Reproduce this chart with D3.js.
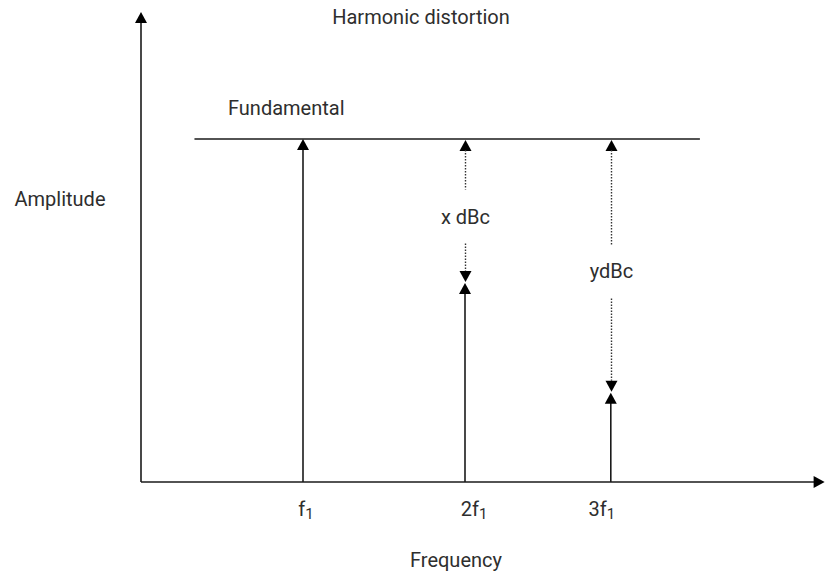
<!DOCTYPE html>
<html>
<head>
<meta charset="utf-8">
<script src="https://cdn.jsdelivr.net/npm/d3@7"></script>
<style>
  html, body { margin: 0; padding: 0; background: #fff; }
  svg text { font-family: "Roboto", "Liberation Sans", sans-serif; fill: #2e2e2e; }
</style>
</head>
<body>
<svg id="chart" width="830" height="573"></svg>
<script>
// ---- data ----
const harmonics = ["f1", "2f1", "3f1"];
const tickBase = ["f", "2f", "3f"];
const harmonicPosition = [1, 2, 2.9];      // schematic frequency position
const amplitude = [1.0, 0.58, 0.26];         // relative amplitude
const levelLabels = [null, "x dBc", "ydBc"];
const title = "Harmonic distortion";
const xTitle = "Frequency";
const yTitle = "Amplitude";
const fundamentalLabel = "Fundamental";
const fundamentalSpan = [0.33, 3.45];
const xMax = 4.22, yMax = 1.37;

// ---- layout ----
const svg = d3.select("#chart");
const origin = { x: 141, y: 482 };
const x = d3.scaleLinear().domain([0, 1]).range([origin.x, 303]);
const y = d3.scaleLinear().domain([0, 1]).range([origin.y, 139]);
const ink = "#1a1a1a";
const AH = 11, AW = 6;   // arrow height, half width
const FS = 20;

function triUp(cx, tipY) {
  return `M${cx},${tipY}L${cx - AW},${tipY + AH}L${cx + AW},${tipY + AH}Z`;
}
function triDown(cx, tipY) {
  return `M${cx},${tipY}L${cx - AW},${tipY - AH}L${cx + AW},${tipY - AH}Z`;
}
function triRight(tipX, cy) {
  return `M${tipX},${cy}L${tipX - AH},${cy - AW}L${tipX - AH},${cy + AW}Z`;
}

// axes
svg.append("line").attr("x1", x(0)).attr("x2", x(xMax) - 4)
  .attr("y1", y(0)).attr("y2", y(0)).attr("stroke", ink).attr("stroke-width", 1.6);
svg.append("path").attr("d", triRight(x(xMax), y(0))).attr("fill", "#000");
svg.append("line").attr("x1", x(0)).attr("x2", x(0))
  .attr("y1", y(0)).attr("y2", y(yMax) + 4).attr("stroke", ink).attr("stroke-width", 1.6);
svg.append("path").attr("d", triUp(x(0), y(yMax))).attr("fill", "#000");

// fundamental reference line
svg.append("line").attr("x1", x(fundamentalSpan[0])).attr("x2", x(fundamentalSpan[1]))
  .attr("y1", y(amplitude[0])).attr("y2", y(amplitude[0]))
  .attr("stroke", ink).attr("stroke-width", 1.6);

const data = harmonics.map((h, i) => ({
  h, base: tickBase[i], pos: harmonicPosition[i], amp: amplitude[i], label: levelLabels[i]
}));

// harmonic lines + arrowheads
const g = svg.selectAll("g.harm").data(data).join("g").attr("class", "harm");
g.append("line")
  .attr("x1", d => x(d.pos)).attr("x2", d => x(d.pos))
  .attr("y1", y(0)).attr("y2", d => y(d.amp) + 4)
  .attr("stroke", ink).attr("stroke-width", 1.6);
g.append("path").attr("d", d => triUp(x(d.pos), y(d.amp))).attr("fill", "#000");

// tick labels
const tickDx = [3, 9, -9];
g.append("text")
  .attr("x", (d, i) => x(d.pos) + tickDx[i]).attr("y", 516)
  .attr("text-anchor", "middle").attr("font-size", FS)
  .each(function (d) {
    const t = d3.select(this);
    t.append("tspan").text(d.base);
    t.append("tspan").attr("font-size", 15).attr("dy", 3).text("1");
  });

// dBc level markers
const lv = g.filter(d => d.label);
const gap = 27;
lv.each(function (d) {
  const sel = d3.select(this);
  const cx = Math.round(x(d.pos)) + 0.5;
  const top = y(amplitude[0]);
  const bot = y(d.amp) - 1;
  const mid = (top + bot) / 2 + 6;
  sel.append("path").attr("d", triUp(cx, top + 1)).attr("fill", "#000");
  sel.append("line").attr("x1", cx).attr("x2", cx)
    .attr("y1", top + AH).attr("y2", mid - gap)
    .attr("stroke", "#333").attr("stroke-width", 1.4).attr("stroke-dasharray", "1.5,1.5");
  sel.append("line").attr("x1", cx).attr("x2", cx)
    .attr("y1", mid + gap).attr("y2", bot - AH)
    .attr("stroke", "#333").attr("stroke-width", 1.4).attr("stroke-dasharray", "1.5,1.5");
  sel.append("path").attr("d", triDown(cx, bot)).attr("fill", "#000");
  sel.append("text").attr("x", cx).attr("y", mid + 7)
    .attr("text-anchor", "middle").attr("font-size", FS).text(d.label);
});

// titles
svg.append("text").attr("x", 421).attr("y", 24).attr("text-anchor", "middle")
  .attr("font-size", FS).text(title);
svg.append("text").attr("x", 60).attr("y", 206).attr("text-anchor", "middle")
  .attr("font-size", FS).text(yTitle);
svg.append("text").attr("x", 228).attr("y", 115)
  .attr("font-size", FS).text(fundamentalLabel);
svg.append("text").attr("x", 456).attr("y", 567).attr("text-anchor", "middle")
  .attr("font-size", FS).text(xTitle);
</script>
</body>
</html>
